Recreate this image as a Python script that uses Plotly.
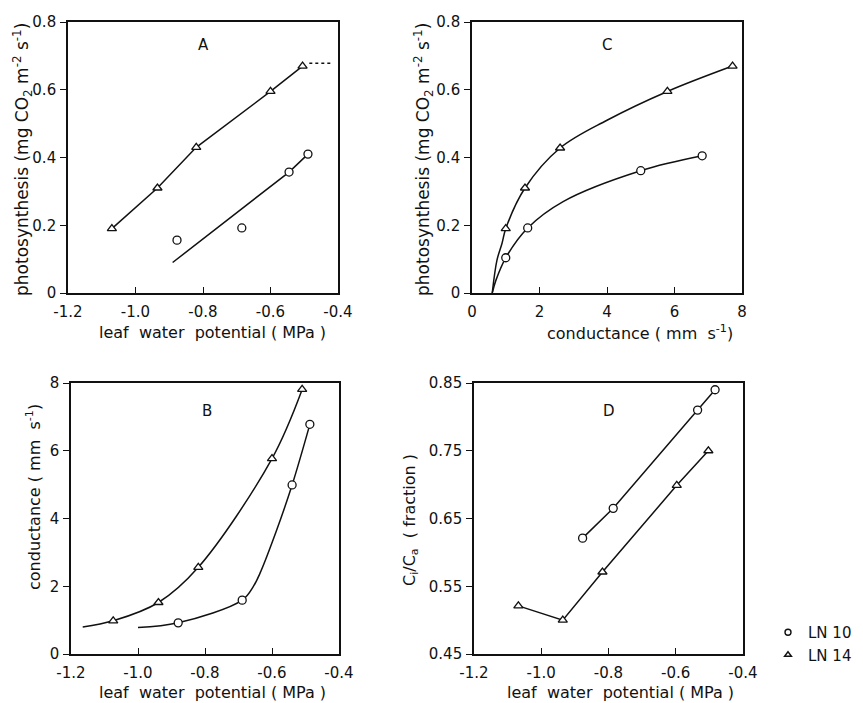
import plotly.graph_objects as go

# ---------------- data ----------------
# Panel A: photosynthesis vs leaf water potential
a_ln14_x = [-1.07, -0.935, -0.82, -0.60, -0.505]
a_ln14_y = [0.19, 0.31, 0.43, 0.595, 0.67]
a_ln14_ext_x = [-0.485, -0.42]
a_ln14_ext_y = [0.678, 0.678]
a_ln10_x = [-0.877, -0.685, -0.545, -0.489]
a_ln10_y = [0.156, 0.192, 0.357, 0.41]
a_ln10_fit_x = [-0.89, -0.545, -0.489]
a_ln10_fit_y = [0.09, 0.357, 0.41]

# Panel B: conductance vs leaf water potential
b_ln14_x = [-1.074, -0.939, -0.82, -0.60, -0.51]
b_ln14_y = [0.98, 1.52, 2.56, 5.77, 7.81]
b_ln14_curve_x = [-1.165, -1.074, -0.939, -0.82, -0.60, -0.51]
b_ln14_curve_y = [0.80, 0.98, 1.52, 2.56, 5.77, 7.81]
b_ln10_x = [-0.88, -0.689, -0.54, -0.487]
b_ln10_y = [0.92, 1.59, 4.99, 6.78]
b_ln10_curve_x = [-1.0, -0.88, -0.689, -0.656, -0.636, -0.586, -0.54, -0.487]
b_ln10_curve_y = [0.78, 0.92, 1.59, 1.99, 2.38, 3.66, 4.99, 6.78]

# Panel C: photosynthesis vs conductance
c_ln14_x = [1.0, 1.57, 2.61, 5.79, 7.72]
c_ln14_y = [0.19, 0.31, 0.428, 0.595, 0.67]
c_ln14_curve_x = [0.6, 0.74, 0.89, 1.0, 1.57, 2.61, 4.0, 5.79, 7.72]
c_ln14_curve_y = [0.0, 0.097, 0.147, 0.19, 0.31, 0.428, 0.51, 0.595, 0.67]
c_ln10_x = [1.0, 1.65, 5.0, 6.82]
c_ln10_y = [0.104, 0.192, 0.361, 0.405]
c_ln10_curve_x = [0.6, 0.71, 1.0, 1.65, 2.7, 5.0, 6.82]
c_ln10_curve_y = [0.0, 0.038, 0.104, 0.192, 0.27, 0.361, 0.405]

# Panel D: Ci/Ca vs leaf water potential
d_ln10_x = [-0.877, -0.786, -0.535, -0.483]
d_ln10_y = [0.621, 0.665, 0.81, 0.84]
d_ln14_x = [-1.068, -0.936, -0.818, -0.597, -0.503]
d_ln14_y = [0.521, 0.50, 0.571, 0.699, 0.75]

lwp_ticks = [-1.2, -1.0, -0.8, -0.6, -0.4]
lwp_ticktext = ["-1.2", "-1.0", "-0.8", "-0.6", "-0.4"]
ps_ticks = [0, 0.2, 0.4, 0.6, 0.8]
ps_ticktext = ["0", "0.2", "0.4", "0.6", "0.8"]
g_ticks = [0, 2, 4, 6, 8]
g_ticktext = ["0", "2", "4", "6", "8"]
ci_ticks = [0.45, 0.55, 0.65, 0.75, 0.85]
ci_ticktext = ["0.45", "0.55", "0.65", "0.75", "0.85"]

# ---------------- figure ----------------
W, H = 863, 703
FONT = "DejaVu Sans"
BLACK = "#111111"

fig = go.Figure()

def px_x(p):
    return p / W

def px_y(p):
    return 1 - p / H

tri = dict(symbol="triangle-up", size=8, color="white", line=dict(color=BLACK, width=1.3))
cir = dict(symbol="circle", size=8, color="white", line=dict(color=BLACK, width=1.3))
ln = dict(color=BLACK, width=1.5)

def add_line(x, y, ax, spline=False, dash=None):
    l = dict(ln)
    if spline:
        l["shape"] = "spline"
        l["smoothing"] = 1.0
    if dash:
        l["dash"] = dash
    fig.add_trace(go.Scatter(x=x, y=y, mode="lines", line=l, showlegend=False,
                             xaxis=ax[0], yaxis=ax[1], hoverinfo="skip",
                             cliponaxis=False))

def add_pts(x, y, ax, marker):
    fig.add_trace(go.Scatter(x=x, y=y, mode="markers", marker=marker, showlegend=False,
                             xaxis=ax[0], yaxis=ax[1], cliponaxis=False))

A = ("x", "y")
C = ("x2", "y2")
B = ("x3", "y3")
D = ("x4", "y4")

# A
add_line(a_ln14_x, a_ln14_y, A)
add_line(a_ln14_ext_x, a_ln14_ext_y, A, dash="3px,3px")
add_line(a_ln10_fit_x, a_ln10_fit_y, A)
add_pts(a_ln14_x, a_ln14_y, A, tri)
add_pts(a_ln10_x, a_ln10_y, A, cir)
# C
add_line(c_ln14_curve_x, c_ln14_curve_y, C, spline=True)
add_line(c_ln10_curve_x, c_ln10_curve_y, C, spline=True)
add_pts(c_ln14_x, c_ln14_y, C, tri)
add_pts(c_ln10_x, c_ln10_y, C, cir)
# B
add_line(b_ln14_curve_x, b_ln14_curve_y, B, spline=True)
add_line(b_ln10_curve_x, b_ln10_curve_y, B, spline=True)
add_pts(b_ln14_x, b_ln14_y, B, tri)
add_pts(b_ln10_x, b_ln10_y, B, cir)
# D
add_line(d_ln14_x, d_ln14_y, D)
add_line(d_ln10_x, d_ln10_y, D)
add_pts(d_ln14_x, d_ln14_y, D, tri)
add_pts(d_ln10_x, d_ln10_y, D, cir)

# legend entries
fig.add_trace(go.Scatter(x=[None], y=[None], mode="markers", name="LN 10",
                         marker=dict(symbol="circle", size=6, color="white",
                                     line=dict(color=BLACK, width=1.4)),
                         xaxis="x4", yaxis="y4"))
fig.add_trace(go.Scatter(x=[None], y=[None], mode="markers", name="LN 14",
                         marker=dict(symbol="triangle-up", size=6, color="white",
                                     line=dict(color=BLACK, width=1.4)),
                         xaxis="x4", yaxis="y4"))

tickfont = dict(family=FONT, size=15, color=BLACK)
common_x = dict(showline=True, mirror=True, linecolor=BLACK, linewidth=1.6,
                ticks="inside", ticklen=6, tickcolor=BLACK, tickwidth=1.2,
                showgrid=False, zeroline=False, tickfont=tickfont, ticklabelstandoff=4,
                automargin=False)
common_y = dict(showline=True, mirror=True, linecolor=BLACK, linewidth=1.6,
                ticks="outside", ticklen=6, tickcolor=BLACK, tickwidth=1.2,
                showgrid=False, zeroline=False, tickfont=tickfont, ticklabelstandoff=1,
                automargin=False)

# domains in window pixels
A_dom = ([68, 338], [22, 293])
C_dom = ([472, 742], [22, 293])
B_dom = ([71, 339], [383, 654])
D_dom = ([474, 743], [383, 654])

def dom_x(d):
    return [px_x(d[0][0]), px_x(d[0][1])]

def dom_y(d):
    return [px_y(d[1][1]), px_y(d[1][0])]

fig.update_layout(
    width=W, height=H,
    margin=dict(l=0, r=0, t=0, b=0, autoexpand=False),
    paper_bgcolor="white", plot_bgcolor="white",
    font=dict(family=FONT, color=BLACK),
    xaxis=dict(common_x, domain=dom_x(A_dom), range=[-1.2, -0.4],
               tickvals=lwp_ticks, ticktext=lwp_ticktext, anchor="y"),
    yaxis=dict(common_y, domain=dom_y(A_dom), range=[0, 0.8],
               tickvals=ps_ticks, ticktext=ps_ticktext, anchor="x"),
    xaxis2=dict(common_x, domain=dom_x(C_dom), range=[0, 8],
                tickvals=g_ticks, ticktext=g_ticktext, anchor="y2"),
    yaxis2=dict(common_y, domain=dom_y(C_dom), range=[0, 0.8],
                tickvals=ps_ticks, ticktext=ps_ticktext, anchor="x2"),
    xaxis3=dict(common_x, domain=dom_x(B_dom), range=[-1.2, -0.4],
                tickvals=lwp_ticks, ticktext=lwp_ticktext, anchor="y3"),
    yaxis3=dict(common_y, domain=dom_y(B_dom), range=[0, 8],
                tickvals=g_ticks, ticktext=g_ticktext, anchor="x3"),
    xaxis4=dict(common_x, domain=dom_x(D_dom), range=[-1.2, -0.4],
                tickvals=lwp_ticks, ticktext=lwp_ticktext, anchor="y4"),
    yaxis4=dict(common_y, domain=dom_y(D_dom), range=[0.45, 0.85],
                tickvals=ci_ticks, ticktext=ci_ticktext, anchor="x4"),
    showlegend=True,
    legend=dict(x=px_x(768), y=px_y(616), xanchor="left", yanchor="top",
                font=dict(family=FONT, size=15, color=BLACK),
                bgcolor="rgba(0,0,0,0)", itemwidth=30, tracegroupgap=0),
)

def ann(text, x, y, angle=0, size=15):
    fig.add_annotation(text=text, x=px_x(x), y=px_y(y), xref="paper", yref="paper",
                       showarrow=False, textangle=angle,
                       font=dict(family=FONT, size=size, color=BLACK),
                       xanchor="center", yanchor="middle")

ps_title = "photosynthesis (mg CO<sub>2</sub> m<sup>-2</sup> s<sup>-1</sup>)"
lwp_title = "leaf  water  potential ( MPa )"
ann(ps_title, 22, 160, angle=-90, size=17)
ann(ps_title, 423, 160, angle=-90, size=17)
ann(lwp_title, 212, 333, size=16)
ann("conductance ( mm  s<sup>-1</sup>)", 640, 333, size=16)
ann("conductance ( mm  s<sup>-1</sup>)", 33, 497, angle=-90, size=16)
ann(lwp_title, 212, 692, size=16)
ann("C<sub>i</sub>/C<sub>a</sub>  ( fraction )", 410, 520, angle=-90, size=16)
ann(lwp_title, 620, 692, size=16)

ann("A", 203, 45)
ann("C", 607, 45)
ann("B", 207, 411)
ann("D", 609, 411)

# remove the page's default body margin so the figure fills the window exactly
fig.write_html("out.html",
               config={"displayModeBar": False},
               post_script="document.body.style.margin='0';document.body.style.overflow='hidden';")
